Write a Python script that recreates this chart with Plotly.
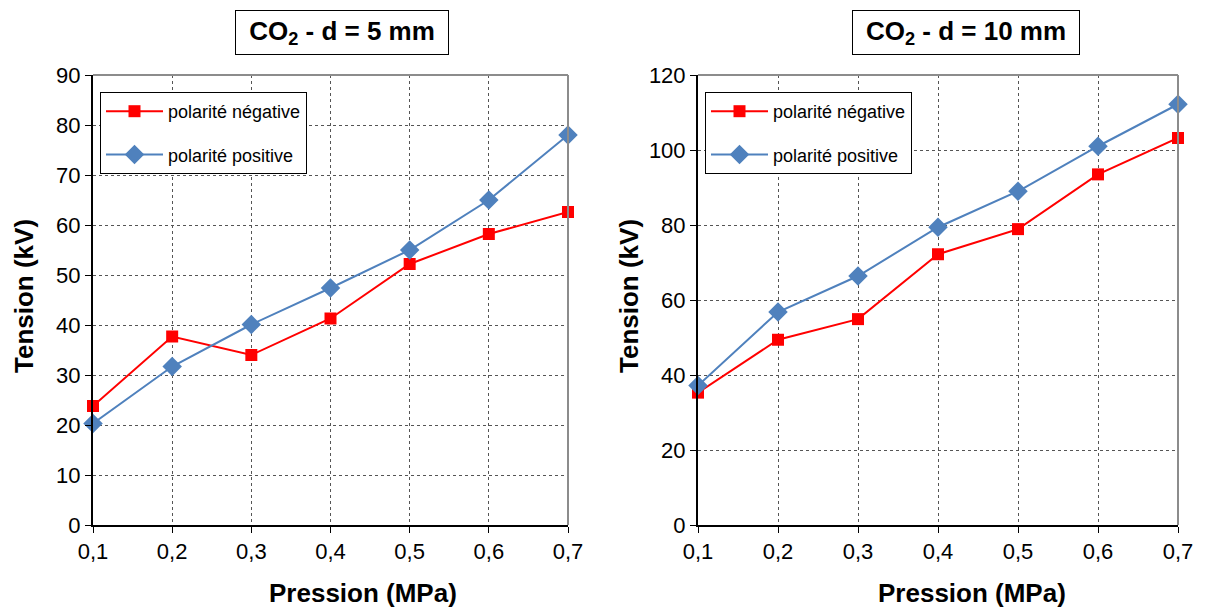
import plotly.graph_objects as go

pression = [0.1, 0.2, 0.3, 0.4, 0.5, 0.6, 0.7]
neg_5mm = [23.8, 37.7, 34.0, 41.3, 52.2, 58.2, 62.6]
pos_5mm = [20.3, 31.7, 40.1, 47.4, 55.0, 65.0, 78.0]
neg_10mm = [35.3, 49.4, 54.9, 72.2, 78.9, 93.5, 103.2]
pos_10mm = [37.2, 56.8, 66.4, 79.4, 89.0, 101.0, 112.2]
x_ticks = [0.1, 0.2, 0.3, 0.4, 0.5, 0.6, 0.7]
x_ticktext = ["0,1", "0,2", "0,3", "0,4", "0,5", "0,6", "0,7"]

RED = "#ff0000"
BLUE = "#4f81bd"
FONT = "Liberation Sans, Arial, sans-serif"

# page body has an 8px margin; figure is offset by it
OFF = 8
W, H = 1197, 602


def X(px):
    return (px - OFF) / W


def Y(py):
    return 1 - (py - OFF) / H


fig = go.Figure()


def add_pair(neg, pos, xa, ya, leg):
    fig.add_trace(go.Scatter(x=pression, y=neg, mode="lines+markers", name="polarité négative",
                             line=dict(color=RED, width=2), marker=dict(symbol="square", size=12, color=RED),
                             xaxis=xa, yaxis=ya, legend=leg, legendgroup=leg + "n", cliponaxis=False))
    fig.add_trace(go.Scatter(x=pression, y=pos, mode="lines+markers", name="polarité positive",
                             line=dict(color=BLUE, width=2), marker=dict(symbol="diamond", size=15, color=BLUE),
                             xaxis=xa, yaxis=ya, legend=leg, legendgroup=leg + "p", cliponaxis=False))


add_pair(neg_5mm, pos_5mm, "x", "y", "legend")
add_pair(neg_10mm, pos_10mm, "x2", "y2", "legend2")

ydom = [Y(525), Y(75)]
xcommon = dict(range=[0.1, 0.7], tickvals=x_ticks, ticktext=x_ticktext, showgrid=True,
               gridcolor="#555555", griddash="dot", gridwidth=1, showline=True, linecolor="black",
               linewidth=2, ticks="outside", ticklen=6, tickcolor="black", zeroline=False, automargin=False,
               tickfont=dict(size=22, color="black", family=FONT))
ycommon = dict(showgrid=True, gridcolor="#555555", griddash="dot", gridwidth=1, showline=True,
               linecolor="black", linewidth=2, ticks="outside", ticklen=6, tickcolor="black", zeroline=False,
               automargin=False, tickfont=dict(size=22, color="black", family=FONT))

legcommon = dict(xanchor="left", yanchor="top", bgcolor="white", bordercolor="black", borderwidth=1,
                 font=dict(size=18, family=FONT, color="black"), tracegroupgap=17, itemwidth=57)

fig.update_layout(
    width=W, height=H, margin=dict(l=0, r=0, t=0, b=0, autoexpand=False),
    paper_bgcolor="white", plot_bgcolor="white",
    font=dict(family=FONT, color="black"),
    xaxis=dict(domain=[X(93), X(568)], anchor="y", **xcommon),
    yaxis=dict(domain=ydom, anchor="x", range=[0, 90], dtick=10, **ycommon),
    xaxis2=dict(domain=[X(698), X(1178)], anchor="y2", **xcommon),
    yaxis2=dict(domain=ydom, anchor="x2", range=[0, 120], dtick=20, **ycommon),
    legend=dict(x=X(100), y=Y(92), **legcommon),
    legend2=dict(x=X(705), y=Y(92), **legcommon),
    showlegend=True,
)

# gray top/right frame
for xr, yr in (("x", "y"), ("x2", "y2")):
    fig.add_shape(type="line", xref=f"{xr} domain", yref=f"{yr} domain", x0=0, x1=1, y0=1, y1=1,
                  line=dict(color="#8c8c8c", width=2))
    fig.add_shape(type="line", xref=f"{xr} domain", yref=f"{yr} domain", x0=1, x1=1, y0=0, y1=1,
                  line=dict(color="#8c8c8c", width=2))

for cx, bw, txt in ((342, 200, "<b>CO<sub>2</sub> - d = 5 mm</b>"),
                    (966, 214, "<b>CO<sub>2</sub> - d = 10 mm</b>")):
    fig.add_annotation(x=X(cx), y=Y(33), xref="paper", yref="paper", text=txt, showarrow=False,
                       font=dict(size=26, color="black", family=FONT), bordercolor="black", borderwidth=1,
                       borderpad=6, width=bw, height=31, bgcolor="white", xanchor="center", yanchor="middle")

# axis titles
for cx in (363, 972):
    fig.add_annotation(x=X(cx), y=Y(593), xref="paper", yref="paper", text="<b>Pression (MPa)</b>",
                       showarrow=False, font=dict(size=26, color="black", family=FONT),
                       xanchor="center", yanchor="middle")
for cx in (24, 629):
    fig.add_annotation(x=X(cx), y=Y(296), xref="paper", yref="paper", text="<b>Tension (kV)</b>",
                       showarrow=False, textangle=-90, font=dict(size=26, color="black", family=FONT),
                       xanchor="center", yanchor="middle")

fig.write_html("out.html")
